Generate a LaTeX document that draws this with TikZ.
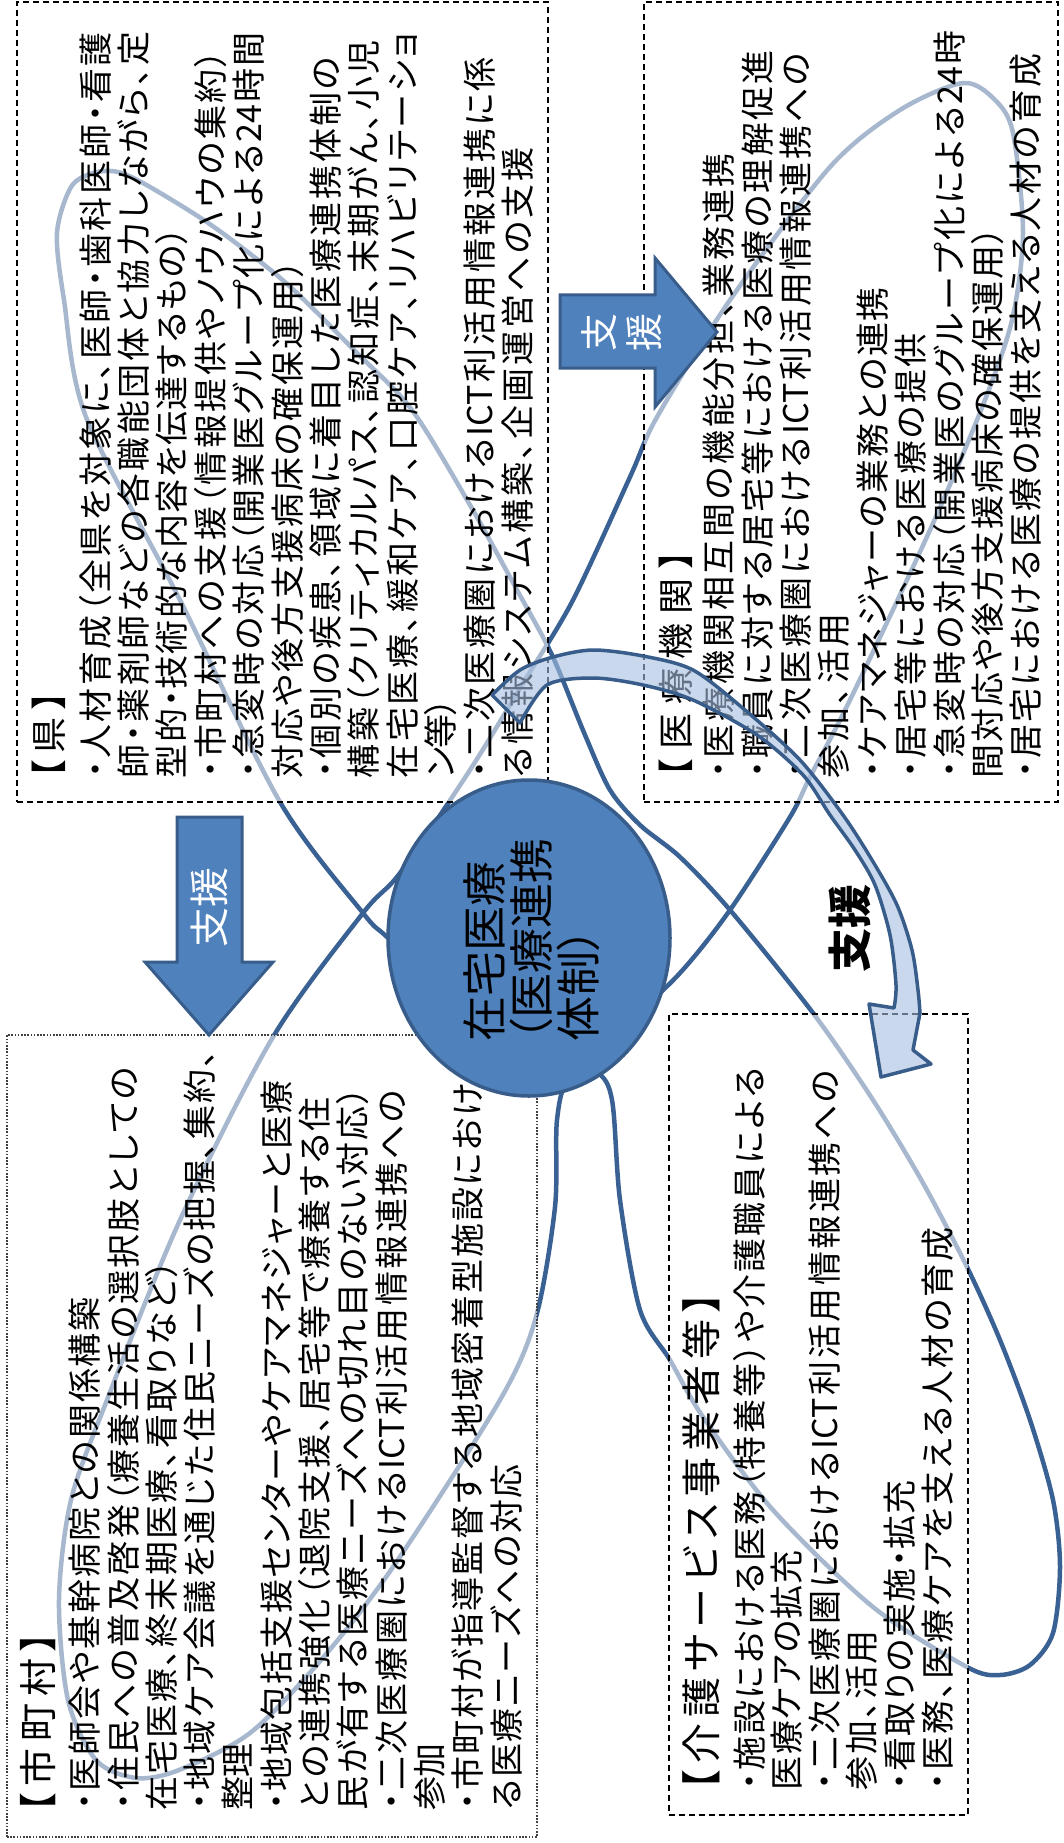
\documentclass[tikz,border=0pt]{standalone}
\usepackage{fontspec}
\setmainfont{Noto Sans CJK JP}[RawFeature=+palt]
\usetikzlibrary{shapes.geometric}
\definecolor{dk}{HTML}{385D8A}
\definecolor{ln}{HTML}{3A6194}
\definecolor{fb}{HTML}{4F81BD}
\definecolor{lt}{HTML}{A6BFE0}
\let\sprEnd\relax
\def\sprE{\sprEnd}
\def\spr#1{\sprB#1\sprEnd}
\def\sprB#1{#1\sprA}
\def\sprA#1{\def\sprT{#1}\ifx\sprT\sprE\else\hskip0pt plus1fil minus1fil\relax\sprT\expandafter\sprA\fi}
\newcommand\LN[2]{\hbox to #1pt{\spr{#2}}}
\newcommand\TB[2]{\vbox{\baselineskip=#1pt\lineskiplimit=-1000pt\lineskip=0pt\relax#2}}
\newcommand\fbody{\fontsize{34}{38}\selectfont}
\begin{document}
\begin{tikzpicture}[x=1pt,y=1pt,
  curveln/.style={draw=ln, line width=4.5pt},
  dbox/.style={rectangle, draw=black, dash pattern=on 6pt off 4pt, line width=1.5pt, fill=white, fill opacity=0.55, draw opacity=1, inner sep=0pt},
  pbox/.style={rectangle, draw=black!75, dash pattern=on 1.6pt off 1.6pt, line width=1.1pt, fill=white, fill opacity=0.55, draw opacity=1, inner sep=0pt},
  txt/.style={rotate=90, anchor=north west, inner sep=0pt, outer sep=0pt},
  arrowshape/.style={fill=fb, draw=dk, line width=3pt, line join=miter}]
\useasboundingbox (0,0) rectangle (1064,-1843);
\fill[white] (0,0) rectangle (1064,-1843);

% big looping curves
\draw[curveln] plot[smooth cycle] coordinates {(93,-173) (118,-172) (150,-187) (214,-227) (286,-283) (357,-353) (412,-410) (470,-505) (517,-590) (552,-655) (585,-735) (610,-790) (640,-825) (680,-857) (730,-910) (813,-1013) (873,-1100) (923,-1183) (967,-1267) (1000,-1340) (1030,-1420) (1053,-1500) (1060,-1567) (1053,-1633) (1030,-1665) (1000,-1675) (967,-1667) (873,-1607) (773,-1510) (703,-1417) (670,-1360) (640,-1310) (620,-1200) (612,-1100) (595,-1070) (540,-1040) (450,-995) (387,-937) (363,-913) (280,-802) (180,-600) (86,-417) (64,-300) (57,-233) (71,-187)};
\draw[curveln] plot[smooth cycle] coordinates {(963,-83) (995,-100) (1013,-133) (1023,-233) (1012,-320) (983,-405) (930,-530) (850,-700) (810,-777) (790,-817) (730,-910) (680,-973) (620,-1030) (570,-1075) (557,-1120) (555,-1207) (536,-1317) (500,-1400) (393,-1567) (321,-1660) (250,-1733) (179,-1770) (136,-1778) (96,-1760) (68,-1700) (59,-1600) (71,-1500) (107,-1400) (180,-1220) (273,-1037) (363,-913) (400,-873) (470,-770) (525,-680) (573,-600) (630,-477) (657,-417) (730,-300) (830,-167) (900,-110)};

% boxes
\node[dbox, minimum width=531pt, minimum height=800pt] (kenbox) at (282.5,-402) {};
\node[dbox, minimum width=414pt, minimum height=800pt] (iryobox) at (851,-402) {};
\node[pbox, minimum width=530pt, minimum height=802pt] (shibox) at (272,-1436) {};
\node[dbox, minimum width=299pt, minimum height=801pt] (kaigobox) at (818.5,-1414.5) {};

% prefecture
\node[txt, font=\fontsize{36}{40}\selectfont] (kenh) at (32,-778) {\LN{86}{【県】}};
\node[txt, font=\fbody] (kent) at (79,-778) {\TB{38.4}{%
\LN{746}{・人材育成（全県を対象に、医師・歯科医師・看護}
\LN{746}{師・薬剤師などの各職能団体と協力しながら、定}
\LN{551}{型的・技術的な内容を伝達するもの）}
\LN{728}{・市町村への支援（情報提供やノウハウの集約）}
\LN{746}{・急変時の対応（開業医グループ化による{24}時間}
\LN{518}{対応や後方支援病床の確保運用）}
\LN{721}{・個別の疾患、領域に着目した医療連携体制の}
\LN{738}{構築（クリティカルパス、認知症、末期がん、小児}
\LN{745}{在宅医療、緩和ケア、口腔ケア、リハビリテーショ}
\LN{80}{ン等）}
\LN{721}{・二次医療圏における{ICT}利活用情報連携に係}
\LN{631}{る情報システム構築、企画運営への支援}}};

% medical institutions
\node[txt, font=\fontsize{36}{40}\selectfont] (iryoh) at (659,-777) {\LN{226}{【医療機関】}};
\node[txt, font=\fbody] (iryot) at (703,-778) {\TB{38.4}{%
\LN{625}{・医療機関相互間の機能分担、業務連携}
\LN{728}{・職員に対する居宅等における医療の理解促進}
\LN{725}{・二次医療圏における{ICT}利活用情報連携への}
\LN{165}{参加、活用}
\LN{491}{・ケアマネジャーの業務との連携}
\LN{445}{・居宅等における医療の提供}
\LN{748}{・急変時の対応（開業医のグループ化による{24}時}
\LN{551}{間対応や後方支援病床の確保運用）}
\LN{725}{・居宅における医療の提供を支える人材の育成}}};

% municipalities
\node[txt, font=\fontsize{38}{42}\selectfont] (shih) at (20,-1812) {\LN{179}{【市町村】}};
\node[txt, font=\fbody] (shit) at (69,-1810) {\TB{38.3}{%
\LN{513}{・医師会や基幹病院との関係構築}
\LN{743}{・住民への普及啓発（療養生活の選択肢としての}
\LN{550}{在宅医療、終末期医療、看取りなど）}
\LN{760}{・地域ケア会議を通じた住民ニーズの把握、集約、}
\LN{66}{整理}
\LN{730}{・地域包括支援センターやケアマネジャーと医療}
\LN{713}{との連携強化（退院支援、居宅等で療養する住}
\LN{723}{民が有する医療ニーズへの切れ目のない対応）}
\LN{720}{・二次医療圏における{ICT}利活用情報連携への}
\LN{66}{参加}
\LN{727}{・市町村が指導監督する地域密着型施設におけ}
\LN{346}{る医療ニーズへの対応}}};

% care providers
\node[txt, font=\fontsize{40}{44}\selectfont] (kaigoh) at (683,-1790) {\LN{497}{【介護サービス事業者等】}};
\node[txt, font=\fbody] (kaigot) at (733,-1790) {\TB{37.6}{%
\LN{723}{・施設における医務（特養等）や介護職員による}
\LN{240}{医療ケアの拡充}
\LN{720}{・二次医療圏における{ICT}利活用情報連携への}
\LN{160}{参加、活用}
\LN{310}{・看取りの実施・拡充}
\LN{563}{・医務、医療ケアを支える人材の育成}}};

% curved arrow
\draw[dk, line width=3.5pt, fill=lt, fill opacity=0.6, draw opacity=1, line join=round]
  plot[smooth] coordinates {(492,-695) (520,-670) (553,-657) (593,-650) (643,-656) (693,-670) (745,-710) (800,-760) (843,-815) (872,-860) (897,-905) (912,-950) (918,-990) (920,-1013)}
  -- (913,-1050) -- (931,-1064) -- (881,-1077) -- (869,-1004)
  -- plot[smooth] coordinates {(894,-1008) (896,-985) (890,-935) (875,-885) (855,-850) (830,-815) (803,-775) (757,-735) (693,-700) (643,-685) (593,-678) (547,-685) (520,-723)}
  -- cycle;
\node[rotate=90, font=\fontsize{44}{48}\selectfont\bfseries] (sienc) at (850,-928) {支援};

% central ellipse
\node[ellipse, draw=dk, line width=3.5pt, fill=fb, minimum width=282pt, minimum height=316pt, inner sep=0pt] (zaitaku) at (529,-938) {};
\node[rotate=90, align=left, font=\fontsize{45}{47}\selectfont] (zaitakut) at (532,-940) {在宅医療\\（医療連携\\体制）};

% straight arrows
\draw[arrowshape] (177,-817) -- (242,-817) -- (242,-962) -- (273,-962) -- (209,-1035) -- (145,-962) -- (177,-962) -- cycle;
\node[rotate=90, text=white, font=\fontsize{40}{44}\selectfont] (sien1) at (209,-907) {支援};
\draw[arrowshape] (560,-295) -- (655,-295) -- (655,-258) -- (717,-332) -- (655,-407) -- (655,-368) -- (560,-368) -- cycle;
\node[rotate=90, align=center, text=white, font=\fontsize{38}{45}\selectfont] (sien2) at (622,-332) {支\\援};
\end{tikzpicture}
\end{document}
